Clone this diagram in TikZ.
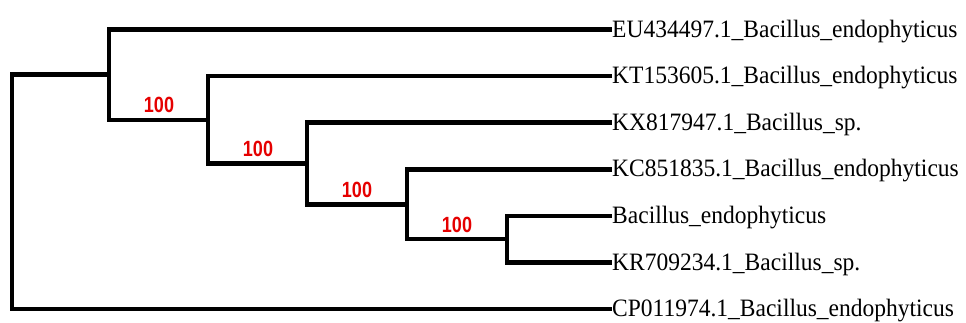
\documentclass[tikz,border=0pt]{standalone}
\usepackage{fontspec}
\newfontfamily\tipfont[FakeStretch=0.94]{Liberation Serif}
\newfontfamily\bootfont[FakeStretch=0.82]{Liberation Sans}
\tikzset{
  branch/.style={line width=4.5pt, line join=miter, line cap=butt},
  leaf/.style={anchor=west, inner sep=0pt, text height=15pt, text depth=0pt,
               font=\tipfont\fontsize{25}{26}\selectfont},
  boot/.style={anchor=base, inner sep=0pt, text=red!90!black,
               font=\bootfont\bfseries\fontsize{22}{22}\selectfont},
}
\begin{document}
\begin{tikzpicture}[x=1pt, y=-1pt]
  \useasboundingbox (0,0) rectangle (966,322);

  % leaves, evenly spaced
  \node[leaf] (eu) at (612, 29.5)  {EU434497.1\_Bacillus\_endophyticus};
  \node[leaf] (kt) at (612, 76.1)  {KT153605.1\_Bacillus\_endophyticus};
  \node[leaf] (kx) at (612, 122.7) {KX817947.1\_Bacillus\_sp.};
  \node[leaf] (kc) at (612, 169.3) {KC851835.1\_Bacillus\_endophyticus};
  \node[leaf] (be) at (612, 215.9) {Bacillus\_endophyticus};
  \node[leaf] (kr) at (612, 262.5) {KR709234.1\_Bacillus\_sp.};
  \node[leaf] (cp) at (612, 309.1) {CP011974.1\_Bacillus\_endophyticus};

  % internal nodes
  \coordinate (nE) at (507, 239.2);
  \coordinate (nD) at (407, 204.3);
  \coordinate (nC) at (307, 163.5);
  \coordinate (nB) at (208, 119.8);
  \coordinate (nA) at (109, 74.6);
  \coordinate (root) at (12, 191.9);

  % branches
  \draw[branch] (nE) |- (be.west);
  \draw[branch] (nE) |- (kr.west);
  \draw[branch] (nD) |- (kc.west);
  \draw[branch] (nD) |- (nE);
  \draw[branch] (nC) |- (kx.west);
  \draw[branch] (nC) |- (nD);
  \draw[branch] (nB) |- (kt.west);
  \draw[branch] (nB) |- (nC);
  \draw[branch] (nA) |- (eu.west);
  \draw[branch] (nA) |- (nB);
  \draw[branch] (root) |- (nA);
  \draw[branch] (root) |- (cp.west);

  % bootstrap support values
  \node[boot] (bB) at (159, 112.8) {100};
  \node[boot] (bC) at (258, 156.5) {100};
  \node[boot] (bD) at (357, 197.3) {100};
  \node[boot] (bE) at (457, 232.2) {100};
\end{tikzpicture}
\end{document}
